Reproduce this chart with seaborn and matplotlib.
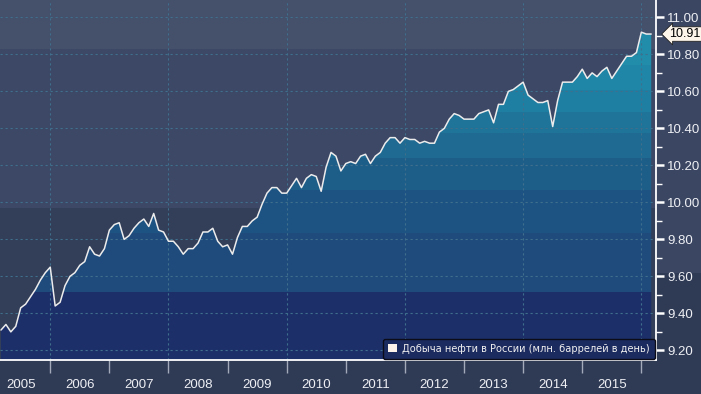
import numpy as np
import pandas as pd
import matplotlib
matplotlib.use('Agg')
import matplotlib.pyplot as plt
import seaborn as sns
from matplotlib.patches import Patch, Rectangle

# Добыча нефти в России, млн баррелей в день (помесячно, с марта 2005)
production = [
    9.31, 9.34, 9.30, 9.33, 9.43, 9.45, 9.49, 9.53, 9.58, 9.62, 9.65, 9.44,
    9.46, 9.55, 9.60, 9.62, 9.66, 9.68, 9.76, 9.72, 9.71, 9.75, 9.85, 9.88,
    9.89, 9.80, 9.82, 9.86, 9.89, 9.91, 9.87, 9.94, 9.85, 9.84, 9.79,
    9.79, 9.76, 9.72, 9.75, 9.75, 9.78, 9.84, 9.84, 9.86, 9.79, 9.76, 9.77,
    9.72, 9.81, 9.87, 9.87, 9.90, 9.92, 9.99, 10.05, 10.08, 10.08, 10.05, 10.05,
    10.09, 10.13, 10.08, 10.13, 10.15, 10.14, 10.06,
    10.19, 10.27, 10.25, 10.17, 10.21, 10.22, 10.21, 10.25, 10.26, 10.21, 10.25, 10.27,
    10.32, 10.35, 10.35, 10.32, 10.35, 10.34, 10.34, 10.32, 10.33, 10.32, 10.32, 10.38,
    10.40, 10.45, 10.48, 10.47, 10.45, 10.45, 10.45, 10.48,
    10.49, 10.50, 10.43, 10.53, 10.53, 10.60, 10.61, 10.63, 10.65, 10.58, 10.56, 10.54,
    10.54, 10.55, 10.41, 10.55, 10.65, 10.65, 10.65, 10.68, 10.72, 10.67, 10.70, 10.68,
    10.71, 10.73, 10.67, 10.71, 10.75, 10.79, 10.79, 10.81, 10.92, 10.91, 10.91,
]
year_labels = [2005, 2006, 2007, 2008, 2009, 2010, 2011, 2012, 2013, 2014, 2015]
y_ticks = [9.2, 9.4, 9.6, 9.8, 10.0, 10.2, 10.4, 10.6, 10.8, 11.0]
last_label = '10.91'
series_name = 'Добыча нефти в России (млн. баррелей в день)'

months = pd.date_range('2005-03-01', periods=len(production), freq='MS')
df = pd.DataFrame({
    'year': months.year + (months.month - 1) / 12.0,
    'value': production,
})

sns.set_style('dark')
plt.rcParams['font.family'] = ['Liberation Sans', 'DejaVu Sans']

fig = plt.figure(figsize=(7.01, 3.94), dpi=100, facecolor='#2f3a55')
fig.patches.append(Rectangle((0.936, 0.307), 0.064, 0.693, transform=fig.transFigure,
                             facecolor='#3b4662', edgecolor='none', zorder=-1))
ax = fig.add_axes([0.0, 0.0863, 0.936, 0.9137])
ymin, ymax = 9.148, 11.094
ax.set_xlim(2005.15, 2016.25)
ax.set_ylim(ymin, ymax)
ax.set_facecolor('#333e58')

# фон над линией
ax.axhspan(9.968, 10.829, color='#3c4865', lw=0, zorder=0)
ax.axhspan(10.829, ymax, color='#45506b', lw=0, zorder=0)

# заливка под линией горизонтальными полосами
fill = ax.fill_between(df['year'], ymin, df['value'], color='none', lw=0, zorder=1)
clip_path = fill.get_paths()[0]
bands = [
    (ymin, 9.515, '#1c2f69'),
    (9.515, 9.834, '#1e4b7c'),
    (9.834, 10.066, '#1d5383'),
    (10.066, 10.24, '#1d5e89'),
    (10.24, 10.375, '#1e6a92'),
    (10.375, 10.49, '#1e7499'),
    (10.49, 10.607, '#1f7fa3'),
    (10.607, 10.74, '#2086a7'),
    (10.74, ymax, '#218dab'),
]
for lo, hi, c in bands:
    span = ax.axhspan(lo, hi, color=c, lw=0, zorder=1)
    span.set_clip_path(clip_path, ax.transData)

sns.lineplot(data=df, x='year', y='value', ax=ax, color='#ececec', lw=1.1, zorder=3)

# сетка
grid_kw = dict(color='#3f6f8c', lw=0.8, ls=(0, (2, 2.5)), zorder=2)
for v in y_ticks:
    ax.axhline(v, **grid_kw)
for yr in range(2006, 2017, 2):
    ax.axvline(yr, **grid_kw)
ax.grid(False)

# оси
for s in ['left', 'top']:
    ax.spines[s].set_visible(False)
for s in ['right', 'bottom']:
    ax.spines[s].set_visible(True)
    ax.spines[s].set_color('white')
    ax.spines[s].set_linewidth(1.3)

ax.set_xticks(range(2006, 2017))
ax.set_xticklabels([])
ax.set_xticks([y + 0.5 for y in year_labels], minor=True)
ax.set_xticklabels([str(y) for y in year_labels], minor=True)
ax.tick_params(axis='x', which='major', direction='out', length=9, width=1,
               color='#a3abbb', bottom=True)
ax.tick_params(axis='x', which='minor', length=0, pad=14, labelsize=9.5,
               labelcolor='#eef0f4', bottom=True)

ax.yaxis.tick_right()
ax.set_yticks(y_ticks)
ax.set_yticklabels([f'{v:.2f}' for v in y_ticks])
ax.set_yticks(np.arange(9.3, 11.0, 0.2), minor=True)
ax.tick_params(axis='y', which='major', direction='out', length=6, width=1.8,
               color='white', labelsize=9.5, labelcolor='#eef0f4', pad=2, right=True)
ax.tick_params(axis='y', which='minor', direction='out', length=4, width=1,
               color='white', right=True)
ax.set_xlabel('')
ax.set_ylabel('')

# метка последнего значения
ax.annotate(last_label, xy=(1.0, production[-1]), xycoords=('axes fraction', 'data'),
            xytext=(9.5, 0), textcoords='offset points', ha='left', va='center',
            fontsize=9, color='black', annotation_clip=False,
            bbox=dict(boxstyle='larrow,pad=0.1', fc='#fdf5ea', ec='#222222', lw=0.6))

leg = ax.legend(handles=[Patch(facecolor='#fdf3ea', edgecolor='none', label=series_name)],
                loc='lower right', bbox_to_anchor=(1.0, 0.0), borderaxespad=0.15,
                frameon=True, fancybox=True, handlelength=0.85, handleheight=0.85,
                handletextpad=0.55, borderpad=0.5,
                prop={'family': ['DejaVu Sans'], 'size': 7.1})
leg.get_frame().set_facecolor('#1b2a5f')
leg.get_frame().set_edgecolor('#0c0c18')
leg.get_frame().set_alpha(1)
leg.get_frame().set_linewidth(1.0)
for t in leg.get_texts():
    t.set_color('#f0f0f0')
leg.set_zorder(5)

fig.savefig('out.png', dpi=100, facecolor=fig.get_facecolor())
